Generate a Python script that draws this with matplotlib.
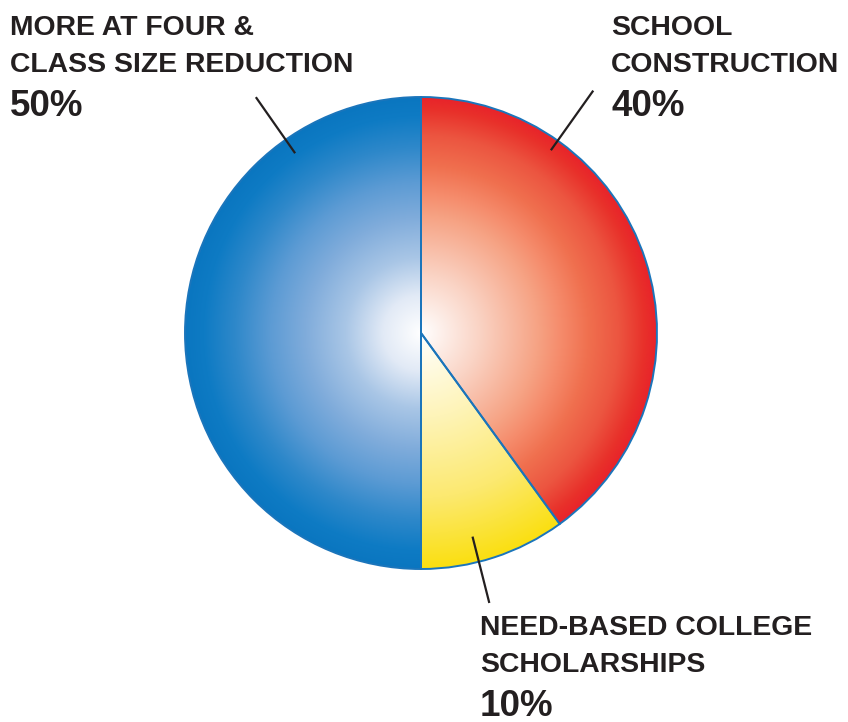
import numpy as np
import matplotlib.pyplot as plt
from matplotlib.colors import to_rgb

# data
labels = ['SCHOOL\nCONSTRUCTION', 'NEED-BASED COLLEGE\nSCHOLARSHIPS', 'MORE AT FOUR &\nCLASS SIZE REDUCTION']
values = [40, 10, 50]
pct_labels = ['40%', '10%', '50%']

# radial colour stops (distance from centre as fraction of radius, colour)
red_stops = [(0, '#FFFFFF'), (0.25, '#FAD3C4'), (0.5, '#F6A283'), (0.6, '#F58A6A'),
             (0.71, '#F0704F'), (0.84, '#EC5540'), (0.95, '#E8302A'), (1.0, '#E8232A')]
yellow_stops = [(0, '#FFFFFF'), (0.36, '#FEF4B8'), (0.7, '#FCE970'), (1.0, '#FADF10')]
blue_stops = [(0, '#FFFFFF'), (0.16, '#E2EAF6'), (0.32, '#A9C6E6'), (0.49, '#80ACDB'),
              (0.64, '#5C9BD4'), (0.79, '#2E88CA'), (0.92, '#0E7BC4'), (1.0, '#0A76C0')]
stops = [red_stops, yellow_stops, blue_stops]

W, H = 848, 722
cx, cy, R = 421, 722 - 333, 236
edge = '#1B75BB'
ink = '#231F20'

fig = plt.figure(figsize=(W / 100, H / 100), dpi=100)
ax = fig.add_axes([0, 0, 1, 1])

wedges, _ = ax.pie(values, center=(cx, cy), radius=R, startangle=90,
                   counterclock=False, frame=True,
                   wedgeprops=dict(facecolor='none', edgecolor=edge, linewidth=1.4))

# radial gradient for each wedge, white in the middle
n = 600
xs = np.linspace(-1, 1, n)
gx, gy = np.meshgrid(xs, xs)
d = np.clip(np.sqrt(gx ** 2 + gy ** 2), 0, 1)
for w, st in zip(wedges, stops):
    pos = [s[0] for s in st]
    cols = np.array([to_rgb(s[1]) for s in st])
    img = np.dstack([np.interp(d, pos, cols[:, k]) for k in range(3)])
    im = ax.imshow(img, extent=[cx - R, cx + R, cy - R, cy + R], origin='lower',
                   interpolation='bilinear', zorder=1)
    im.set_clip_path(w)
    w.set_zorder(3)

# leader lines (angle in degrees, inner and outer radius as fraction of R)
leaders = [(54.6, 0.95, 1.26), (-75.8, 0.89, 1.18), (125, 0.93, 1.22)]
for ang, r0, r1 in leaders:
    a = np.deg2rad(ang)
    ax.plot([cx + r0 * R * np.cos(a), cx + r1 * R * np.cos(a)],
            [cy + r0 * R * np.sin(a), cy + r1 * R * np.sin(a)],
            color=ink, lw=1.6, solid_capstyle='butt', zorder=4)

# labels
font = 'Liberation Sans'
label_pos = [(611, 722 - 35), (480, 722 - 635), (10, 722 - 35)]
for (x, y), lab, p in zip(label_pos, labels, pct_labels):
    l1, l2 = lab.split('\n')
    ax.text(x, y, l1, fontsize=20.4, fontweight='bold', family=font, color=ink, va='baseline', ha='left')
    ax.text(x, y - 37, l2, fontsize=20.4, fontweight='bold', family=font, color=ink, va='baseline', ha='left')
    ax.text(x, y - 81, p, fontsize=26.5, fontweight='bold', family=font, color=ink, va='baseline', ha='left')

ax.set_xlim(0, W)
ax.set_ylim(0, H)
ax.set_aspect('equal')
ax.axis('off')

fig.savefig('out.png', dpi=100)
